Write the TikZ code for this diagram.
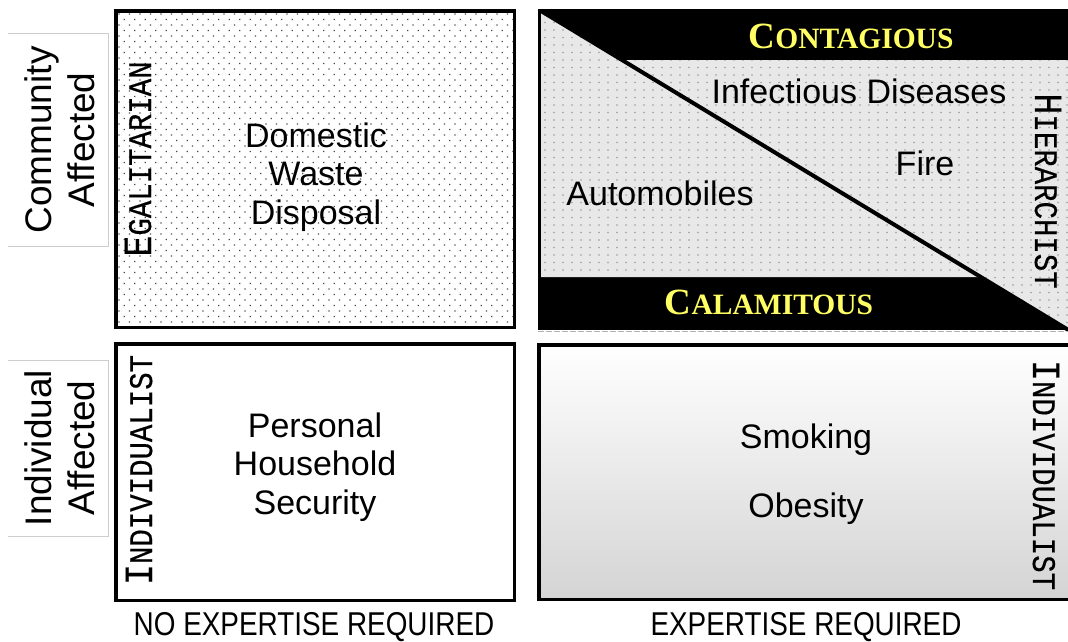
\documentclass[tikz,border=0pt]{standalone}
\usepackage{fontspec}
\setmainfont{Liberation Sans}
\newfontfamily\monof[FakeStretch=0.88,FakeBold=0.4]{Liberation Mono}
\newfontfamily\seriff{Liberation Serif}
\newfontfamily\narrowf[FakeStretch=0.845]{Liberation Sans}
\definecolor{ylw}{RGB}{255,255,100}
\definecolor{panelgray}{RGB}{232,232,232}
\definecolor{botgray}{RGB}{212,212,212}
\definecolor{dotdark}{RGB}{70,70,70}
\definecolor{dotlight}{RGB}{140,140,140}
\definecolor{labelline}{RGB}{205,205,205}
\newcommand{\mysc}[4]{{\fontsize{#1}{#1}\selectfont #3}{\fontsize{#2}{#2}\selectfont #4}}
\tikzset{
  quadbox/.style={draw=black, line width=3.5pt},
  bigtext/.style={font=\fontsize{34}{38.5}\selectfont, align=center, inner sep=0pt},
  sidetext/.style={font=\fontsize{37}{43}\selectfont, align=center, inner sep=0pt},
  monolabel/.style={font=\monof, inner sep=0pt, anchor=base},
  warnlabel/.style={font=\seriff\bfseries, text=ylw, inner sep=0pt, anchor=base},
  axislabel/.style={font=\narrowf\fontsize{33}{33}\selectfont, inner sep=0pt, anchor=base},
  labelframe/.style={draw=labelline, line width=1pt}
}
\begin{document}
\begin{tikzpicture}[x=1pt,y=-1pt]
\useasboundingbox (0,0) rectangle (1068,641);

% ---------- side labels ----------
\draw[labelframe] (8,33.5) -- (108.5,33.5) -- (108.5,246) -- (8,246);
\node[sidetext, rotate=90] (community) at (60,140) {Community\\Affected};
\draw[labelframe] (8,360) -- (108.5,360) -- (108.5,536) -- (8,536);
\node[sidetext, rotate=90] (individual) at (60,448) {Individual\\Affected};

% ---------- top-left quadrant ----------
\fill[white] (115.75,10.75) rectangle (514.25,327.25);
\begin{scope}
  \clip (117.5,12.5) rectangle (512.5,325.5);
  \foreach \r in {0,...,58} {
    \pgfmathsetmacro{\yy}{14+\r*5.5}
    \pgfmathsetmacro{\xo}{119+mod(\r,2)*5.25}
    \fill[dotdark] \foreach \c in {0,...,38} { ({\xo+\c*10.5-0.6},{\yy-0.6}) rectangle ++(1.2,1.2) };
  }
\end{scope}
\draw[quadbox] (115.75,10.75) rectangle (514.25,327.25);
\node[monolabel, rotate=90] (egal) at (151,159) {\mysc{40}{33}{E}{GALITARIAN}};
\node[bigtext] (waste) at (316,177) {Domestic\\Waste\\Disposal};

% ---------- top-right quadrant ----------
\fill[black] (538,9) rectangle (1080,330);
\begin{scope}
  \clip (541,11) -- (541,277) -- (981,277) -- cycle;
  \fill[panelgray] (530,0) rectangle (1080,340);
  \foreach \r in {0,...,35} {
    \pgfmathsetmacro{\yy}{15+\r*7.5}
    \fill[dotlight] \foreach \c in {0,...,50} { ({545+\c*9-0.55},{\yy-0.55}) rectangle ++(1.1,1.1) };
  }
\end{scope}
\begin{scope}
  \clip (622,60) -- (1080,60) -- (1080,337) -- cycle;
  \fill[panelgray] (530,0) rectangle (1080,340);
  \foreach \r in {6,...,43} {
    \pgfmathsetmacro{\yy}{15+\r*7.5}
    \fill[dotlight] \foreach \c in {8,...,59} { ({545+\c*9-0.55},{\yy-0.55}) rectangle ++(1.1,1.1) };
  }
\end{scope}
\coordinate (diagA) at (541,11);
\coordinate (diagB) at (1080,337);
\draw[line width=4pt] (diagA) -- (diagB);
\draw[gray!60, line width=1.5pt, dash pattern=on 6pt off 2pt] (538,331.5) -- (1080,331.5);
\node[warnlabel] (contagious) at (851,48) {\mysc{37}{29.5}{C}{ONTAGIOUS}};
\node[warnlabel] (calamitous) at (769,314) {\mysc{37}{29.5}{C}{ALAMITOUS}};
\node[bigtext, anchor=base] (infect) at (859,103) {Infectious Diseases};
\node[bigtext, anchor=base] (fire) at (925,175) {Fire};
\node[bigtext, anchor=base] (auto) at (660,205) {Automobiles};
\node[monolabel, rotate=-90] (hier) at (1035,191) {\mysc{40}{33}{H}{IERARCHIST}};

% ---------- bottom-left quadrant ----------
\fill[white] (115.75,343.75) rectangle (514.25,600.25);
\draw[quadbox] (115.75,343.75) rectangle (514.25,600.25);
\node[monolabel, rotate=90] (indivL) at (152,470) {\mysc{40}{33}{I}{NDIVIDUALIST}};
\node[bigtext] (security) at (315,467) {Personal\\Household\\Security};

% ---------- bottom-right quadrant ----------
\shade[top color=white, bottom color=botgray] (538.75,344.75) rectangle (1080,599.25);
\draw[quadbox] (538.75,344.75) rectangle (1080,599.25);
\node[bigtext, anchor=base] (smoking) at (806,448) {Smoking};
\node[bigtext, anchor=base] (obesity) at (806,517) {Obesity};
\node[monolabel, rotate=-90] (indivR) at (1033,475) {\mysc{40}{33}{I}{NDIVIDUALIST}};

% ---------- axis labels ----------
\node[axislabel] (noexp) at (314,635) {NO EXPERTISE REQUIRED};
\node[axislabel] (exp) at (806,635) {EXPERTISE REQUIRED};
\end{tikzpicture}
\end{document}
